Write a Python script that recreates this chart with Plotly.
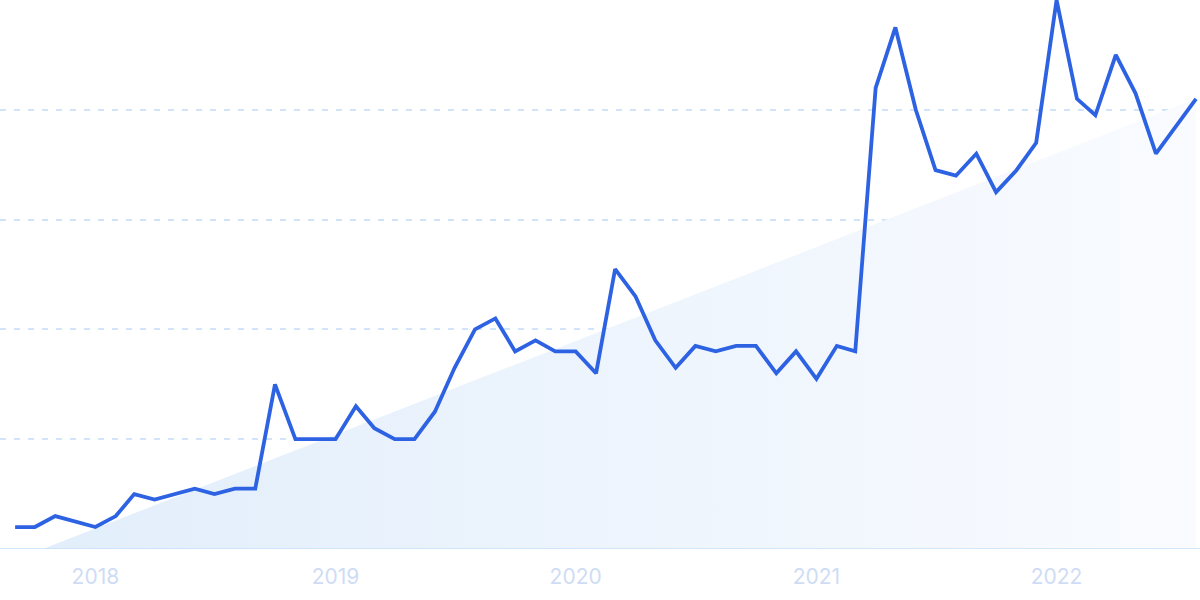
import plotly.graph_objects as go
import pandas as pd

# monthly interest, Sep 2017 .. Aug 2022
months = pd.date_range("2017-09-01", "2022-08-01", freq="MS")
interest = [
    4, 4, 6, 5,
    4, 6, 10, 9, 10, 11, 10, 11, 11, 30, 20, 20,
    20, 26, 22, 20, 20, 25, 33, 40, 42, 36, 38, 36,
    36, 32, 51, 46, 38, 33, 37, 36, 37, 37, 32, 36,
    31, 37, 36, 84, 95, 80, 69, 68, 72, 65, 69, 74,
    100, 82, 79, 90, 83, 72, 77, 82,
]

# trend band behind the line (start / end of the straight edge)
trend_x = ["2017-10-13", "2022-08-01"]
trend_y = [0, 82]

fig = go.Figure()

fig.add_trace(go.Scatter(
    x=trend_x, y=trend_y,
    mode="lines",
    line=dict(width=0),
    fill="tozeroy",
    fillgradient=dict(
        type="horizontal",
        colorscale=[[0, "#e2eefb"], [1, "#f9fbff"]],
    ),
    hoverinfo="skip",
    showlegend=False,
))

fig.add_trace(go.Scatter(
    x=months, y=interest,
    mode="lines",
    line=dict(color="#2d62e3", width=3.8),
    showlegend=False,
))

fig.update_layout(
    width=1200, height=600,
    margin=dict(l=0, r=0, t=0, b=51),
    plot_bgcolor="white",
    paper_bgcolor="white",
    xaxis=dict(
        range=["2017-08-09", "2022-08-07"],
        tickvals=["2018-01-01", "2019-01-01", "2020-01-01", "2021-01-01", "2022-01-01"],
        ticktext=["2018", "2019", "2020", "2021", "2022"],
        showgrid=False,
        zeroline=False,
        showline=False,
        ticks="",
        ticklabelstandoff=13,
        tickfont=dict(family="Inter, Roboto, sans-serif", size=21, color="#cfdcf5"),
    ),
    yaxis=dict(
        range=[0, 100],
        tickvals=[20, 40, 60, 80, 100],
        showticklabels=False,
        showgrid=True,
        gridcolor="#d2e4fa",
        griddash="6px,8px",
        gridwidth=1.5,
        zeroline=False,
        showline=False,
    ),
    shapes=[dict(
        type="line", xref="paper", yref="y",
        x0=0, x1=1, y0=0, y1=0,
        line=dict(color="#c3e0fb", width=1.5),
    )],
)

# drop the page's default body margin so the chart sits at the corner
fig.write_html(
    "out.html",
    config={"displayModeBar": False},
    post_script="document.body.style.margin='0';",
)
